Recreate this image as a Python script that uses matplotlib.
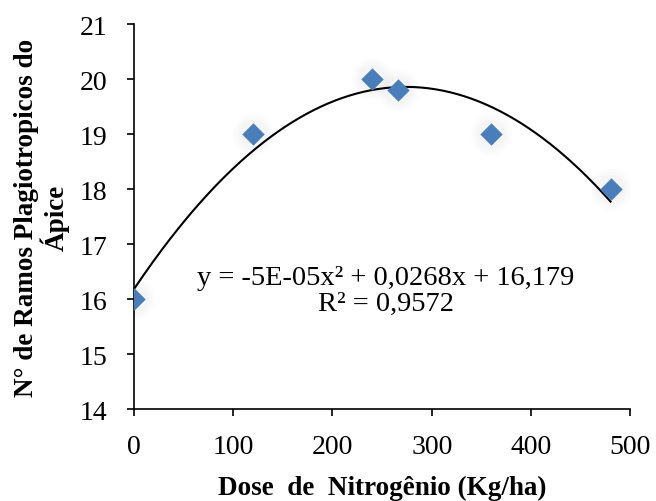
import numpy as np
import matplotlib.pyplot as plt

plt.rcParams['font.family'] = ['Liberation Serif', 'DejaVu Serif']

dose = [0, 120, 240, 266, 360, 480]
ramos = [16, 19, 20, 19.8, 19, 18]
equacao = 'y = -5E-05x² + 0,0268x + 16,179\nR² = 0,9572'

fig = plt.figure(figsize=(6.56, 5.02), dpi=100)
ax = fig.add_axes([0.204, 0.183, 0.757, 0.767])

# linha de tendencia polinomial (grau 2), como no Excel
coef = np.polyfit(dose, ramos, 2)
xs = np.linspace(min(dose), max(dose), 200)
ax.plot(xs, np.polyval(coef, xs), color='black', lw=1.5, zorder=2)

# sombra suave dos marcadores
for s, a in [(900, 0.02), (650, 0.025), (450, 0.03)]:
    ax.scatter(dose, ramos, s=s, color='grey', alpha=a, lw=0, zorder=1)
ax.scatter(dose, ramos, marker='D', s=130, color='#4a7ebb', lw=0, zorder=3)

ax.text(254, 16.15, equacao, ha='center', va='center', fontsize=20.5,
        linespacing=1.05)

ax.set_xlim(0, 500)
ax.set_ylim(14, 21)
ax.set_xticks(range(0, 501, 100))
ax.set_yticks(range(14, 22))
ax.spines['top'].set_visible(False)
ax.spines['right'].set_visible(False)
for sp in ax.spines.values():
    sp.set_linewidth(1.2)
ax.tick_params(direction='out', length=5, width=1.2, labelsize=20)
ax.tick_params(axis='x', pad=13)
ax.tick_params(axis='y', pad=14)

ax.set_xlabel('Dose  de  Nitrogênio (Kg/ha)', fontsize=19.5, fontweight='bold',
              labelpad=11)
ax.set_ylabel('N° de Ramos Plagiotropicos do\nÁpice', fontsize=19.5,
              fontweight='bold', linespacing=1.05, labelpad=7)

fig.savefig('out.png', dpi=100)
